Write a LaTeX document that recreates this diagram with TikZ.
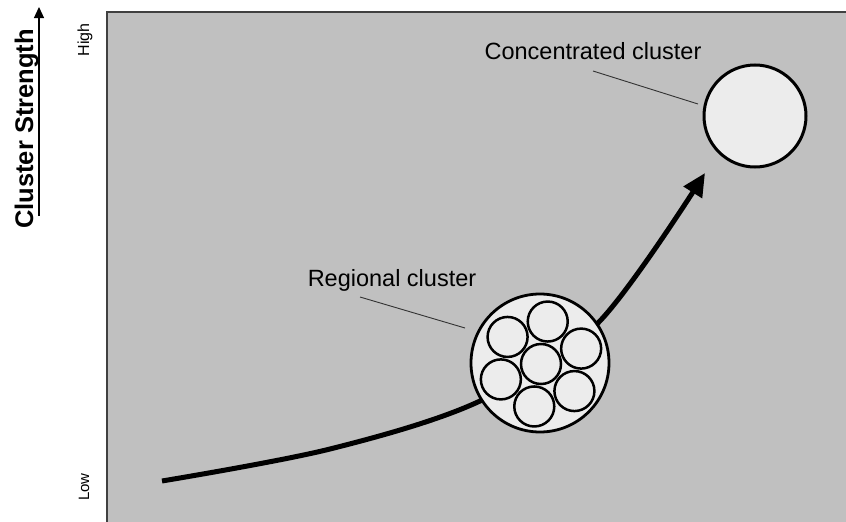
\documentclass[tikz,border=0pt]{standalone}
\usepackage{fontspec}
\setmainfont{Liberation Sans}
\usetikzlibrary{arrows.meta,calc}

\definecolor{panelgray}{RGB}{192,192,192}
\definecolor{bubble}{RGB}{236,236,236}
\definecolor{leader}{RGB}{50,50,50}

\tikzset{
  clusterring/.style={circle, draw=black, fill=bubble, inner sep=0pt, outer sep=0pt},
  firm/.style={clusterring, minimum size=40pt, line width=2.5pt},
  labeltext/.style={font=\fontsize{23.5}{26}\selectfont, inner sep=0pt, anchor=base},
  axistext/.style={inner sep=0pt, rotate=90, anchor=base},
  leaderline/.style={draw=leader, line width=0.9pt},
  growth/.style={line width=5pt, -{Triangle[length=23pt,width=21pt]}}
}

\begin{document}
\begin{tikzpicture}[x=1pt, y=-1pt]
  \useasboundingbox (0,0) rectangle (846,522);

  % plotting panel (only left and top edges are visible)
  \fill[panelgray] (107,12) rectangle (846,522);
  \draw[line width=1.3pt, draw=black!75] (107,522) -- (107,12) -- (846,12);

  % vertical axis title with its arrow
  \node[font=\bfseries\fontsize{25.5}{28}\selectfont, rotate=90, anchor=base, inner sep=0pt]
    (ytitle) at (33,129) {Cluster Strength};
  \coordinate (ybot) at (39,216);
  \coordinate (ytop) at (39,7);
  \draw[line width=1.1pt, -{Triangle[length=11pt,width=10pt]}] (ybot) -- (ytop);

  % axis end labels
  \node[axistext, font=\fontsize{16}{18}\selectfont] (high) at (89,40) {High};
  \node[axistext, font=\fontsize{15}{17}\selectfont] (low) at (89,487) {Low};

  % growth path from low to high cluster strength
  \coordinate (g0) at (162,481);
  \coordinate (g1) at (330,449);
  \coordinate (g2) at (480,401);
  \coordinate (g3) at (598,323);
  \coordinate (g4) at (705,173);
  \draw[growth] plot[smooth, tension=0.55] coordinates {(g0) (g1) (g2) (g3) (g4)};

  % regional cluster: ring of small firms around a central one
  \node[clusterring, minimum size=138pt, line width=2.8pt] (regional) at (540,363) {};
  \coordinate (rc) at (541,364);
  \node[firm] (f0) at (rc) {};
  \foreach \i in {1,...,6} {
    \node[firm] (f\i) at ($(rc)+(21+60*\i:43pt)$) {};
  }

  % concentrated cluster
  \node[clusterring, minimum size=102pt, line width=3pt] (conc) at (755,116) {};

  % labels with leader lines
  \node[labeltext] (regtxt) at (392,286) {Regional cluster};
  \coordinate (regfrom) at (360,297);
  \coordinate (regto) at (465,328);
  \draw[leaderline] (regfrom) -- (regto);

  \node[labeltext] (conctxt) at (593,59) {Concentrated cluster};
  \coordinate (concfrom) at (593,71);
  \coordinate (concto) at (698,104);
  \draw[leaderline] (concfrom) -- (concto);
\end{tikzpicture}
\end{document}
